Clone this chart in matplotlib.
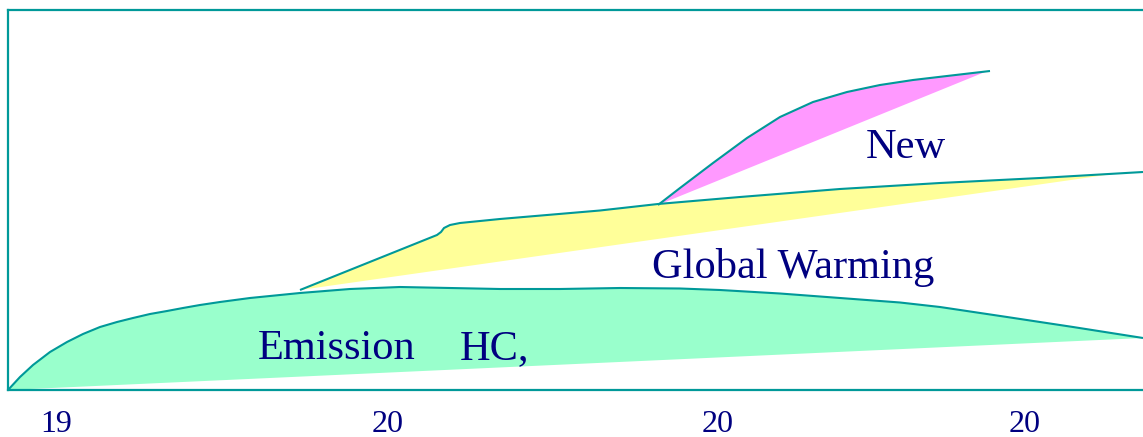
import matplotlib
matplotlib.use("Agg")
import matplotlib.pyplot as plt

# Chart units: x from the left frame edge, y up from the baseline of the frame
green_x = [0, 12, 25, 42, 59, 75, 92, 109, 125, 142, 159, 175, 192, 212, 242, 292, 342, 392, 442, 492,
           552, 612, 672, 712, 772, 832, 892, 932, 999, 1065, 1135]
green_top = [0, 13, 25, 38, 48, 56, 63, 68, 72, 76, 79, 82, 85, 88, 92, 97, 101, 103, 102, 101,
             101, 102, 101.5, 100, 96.5, 92, 87.5, 83, 73, 63, 52]
green_base_x = [0, 1135]
green_base = [0, 52]

yellow_x = [292, 429, 433, 436, 442, 452, 492, 592, 650, 732, 832, 932, 1032, 1135]
yellow_top = [100, 155, 158, 162, 165, 167, 171, 179.5, 186, 193, 201, 207, 212, 218]
yellow_base_x = [292, 1105]
yellow_base = [100, 216]

pink_x = [650, 672, 705, 739, 772, 805, 839, 872, 905, 939, 982]
pink_top = [185, 202, 227, 252, 273, 288, 298, 305, 310, 314, 319]
pink_base_x = [650, 977]
pink_base = [185, 318]

tick_pos = [48.5, 379.5, 710, 1017]
tick_labels = ["19", "20", "20", "20"]

labels = [("Emission", 250, 31), ("HC,", 452, 31), ("Global Warming", 644, 112), ("New", 858, 232)]

LINE = "#009999"
NAVY = "#000080"
SERIF = "Liberation Serif"

fig = plt.figure(figsize=(11.43, 4.37), dpi=100)
ax = fig.add_axes([8 / 1143, 47 / 437, 1135 / 1143, 380 / 437])
ax.set_xlim(0, 1135)
ax.set_ylim(0, 380)

def band(xs, top, bx, by, color):
    px = list(xs) + bx[::-1]
    py = list(top) + by[::-1]
    ax.fill(px, py, color=color, linewidth=0, zorder=1)
    ax.plot(xs, top, color=LINE, linewidth=1.5, solid_capstyle="butt",
            solid_joinstyle="round", zorder=2)

band(green_x, green_top, green_base_x, green_base, "#99FFCC")
band(yellow_x, yellow_top, yellow_base_x, yellow_base, "#FFFF99")
band(pink_x, pink_top, pink_base_x, pink_base, "#FF99FF")

for s, x, y in labels:
    ax.text(x, y, s, fontsize=30.5, family=SERIF, color=NAVY, ha="left", va="baseline", zorder=3)

ax.set_xticks(tick_pos)
ax.set_xticklabels(tick_labels, fontsize=23, family=SERIF, color=NAVY)
ax.tick_params(axis="x", length=0, pad=14.5)
ax.set_yticks([])
for side in ["left", "top", "bottom"]:
    ax.spines[side].set_color(LINE)
    ax.spines[side].set_linewidth(1.6)
ax.spines["right"].set_visible(False)

fig.savefig("out.png", dpi=100)
